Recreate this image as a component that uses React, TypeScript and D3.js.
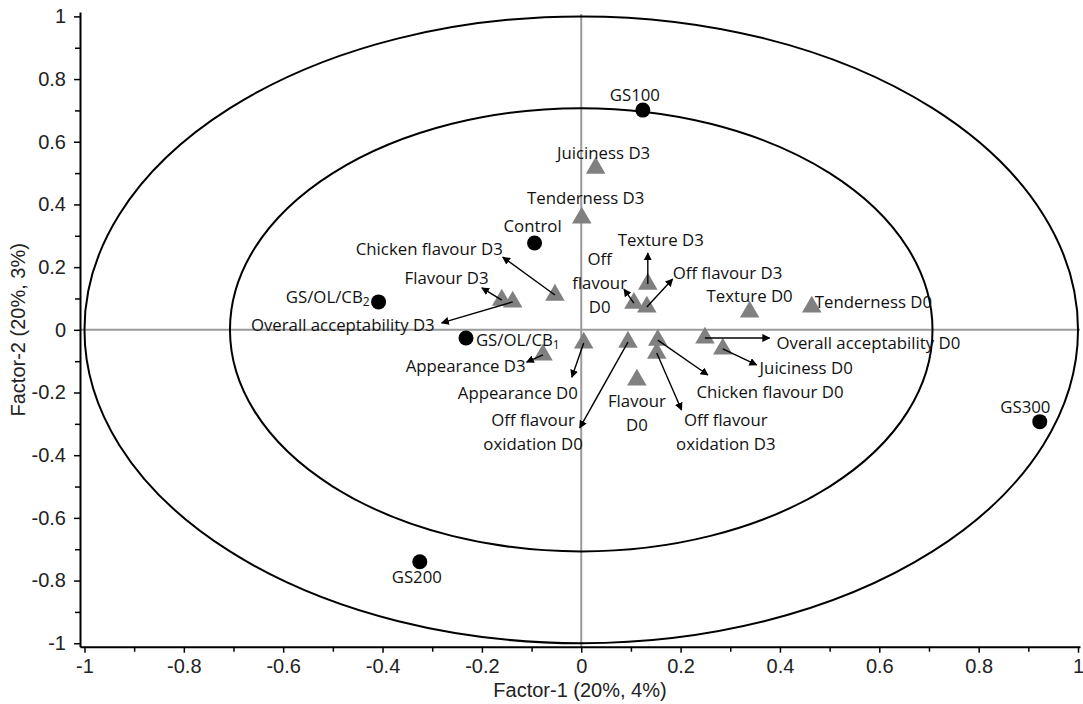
import React, { useRef, useEffect } from "react";
import * as d3 from "d3";

// observations (black dots)
const sampleNames = ["GS100", "Control", "GS/OL/CB2", "GS/OL/CB1", "GS300", "GS200"];
const sampleF1 = [0.124, -0.094, -0.408, -0.232, 0.923, -0.325];
const sampleF2 = [0.701, 0.277, 0.089, -0.026, -0.293, -0.74];

// sensory attributes (grey triangles)
const attrNames = [
  "Juiciness D3", "Tenderness D3", "Chicken flavour D3", "Flavour D3",
  "Overall acceptability D3", "Texture D3", "Off flavour D0", "Off flavour D3",
  "Texture D0", "Tenderness D0", "Overall acceptability D0", "Juiciness D0",
  "Chicken flavour D0", "Off flavour oxidation D3", "Flavour D0",
  "Off flavour oxidation D0", "Appearance D0", "Appearance D3",
];
const attrF1 = [0.029, 0.001, -0.053, -0.16, -0.138, 0.134, 0.106, 0.132, 0.339, 0.464, 0.249, 0.285, 0.154, 0.152, 0.112, 0.094, 0.005, -0.077];
const attrF2 = [0.516, 0.357, 0.111, 0.095, 0.089, 0.146, 0.085, 0.073, 0.057, 0.073, -0.026, -0.061, -0.033, -0.074, -0.16, -0.039, -0.042, -0.08];

const majorTicks = [-1, -0.8, -0.6, -0.4, -0.2, 0, 0.2, 0.4, 0.6, 0.8, 1];
const minorTicks = [-0.9, -0.7, -0.5, -0.3, -0.1, 0.1, 0.3, 0.5, 0.7, 0.9];
const circleRadii = [1, Math.sqrt(0.5)];

// label placement (data units): text lines, anchor, optional arrow tip
type Lab = { lines: string[]; lx: number; ly: number; anchor: string; ax?: number; ay?: number };
const labelLayout: Record<string, Lab> = {
  "GS100": { lines: ["GS100"], lx: 0.108, ly: 0.752, anchor: "middle" },
  "Control": { lines: ["Control"], lx: -0.098, ly: 0.334, anchor: "middle" },
  "GS/OL/CB2": { lines: ["GS/OL/CB|2"], lx: -0.426, ly: 0.108, anchor: "end" },
  "GS/OL/CB1": { lines: ["GS/OL/CB|1"], lx: -0.212, ly: -0.029, anchor: "start" },
  "GS300": { lines: ["GS300"], lx: 0.894, ly: -0.243, anchor: "middle" },
  "GS200": { lines: ["GS200"], lx: -0.331, ly: -0.785, anchor: "middle" },
  "Juiciness D3": { lines: ["Juiciness D3"], lx: 0.045, ly: 0.567, anchor: "middle" },
  "Tenderness D3": { lines: ["Tenderness D3"], lx: 0.009, ly: 0.424, anchor: "middle" },
  "Chicken flavour D3": { lines: ["Chicken flavour D3"], lx: -0.158, ly: 0.261, anchor: "end", ax: -0.158, ay: 0.232 },
  "Flavour D3": { lines: ["Flavour D3"], lx: -0.271, ly: 0.168, anchor: "middle", ax: -0.2, ay: 0.134 },
  "Overall acceptability D3": { lines: ["Overall acceptability D3"], lx: -0.295, ly: 0.018, anchor: "end", ax: -0.281, ay: 0.022 },
  "Texture D3": { lines: ["Texture D3"], lx: 0.16, ly: 0.289, anchor: "middle", ax: 0.134, ay: 0.245 },
  "Off flavour D0": { lines: ["Off", "flavour", "D0"], lx: 0.037, ly: 0.229, anchor: "middle", ax: 0.086, ay: 0.13 },
  "Off flavour D3": { lines: ["Off flavour D3"], lx: 0.184, ly: 0.186, anchor: "start", ax: 0.184, ay: 0.162 },
  "Texture D0": { lines: ["Texture D0"], lx: 0.339, ly: 0.111, anchor: "middle" },
  "Tenderness D0": { lines: ["Tenderness D0"], lx: 0.47, ly: 0.091, anchor: "start" },
  "Overall acceptability D0": { lines: ["Overall acceptability D0"], lx: 0.393, ly: -0.039, anchor: "start", ax: 0.379, ay: -0.026 },
  "Juiciness D0": { lines: ["Juiciness D0"], lx: 0.359, ly: -0.119, anchor: "start", ax: 0.353, ay: -0.112 },
  "Chicken flavour D0": { lines: ["Chicken flavour D0"], lx: 0.232, ly: -0.195, anchor: "start", ax: 0.255, ay: -0.144 },
  "Off flavour oxidation D3": { lines: ["Off flavour", "oxidation D3"], lx: 0.291, ly: -0.285, anchor: "middle", ax: 0.202, ay: -0.256 },
  "Flavour D0": { lines: ["Flavour", "D0"], lx: 0.112, ly: -0.224, anchor: "middle" },
  "Off flavour oxidation D0": { lines: ["Off flavour", "oxidation D0"], lx: -0.097, ly: -0.285, anchor: "middle", ax: -0.003, ay: -0.313 },
  "Appearance D0": { lines: ["Appearance D0"], lx: -0.007, ly: -0.199, anchor: "end", ax: -0.019, ay: -0.151 },
  "Appearance D3": { lines: ["Appearance D3"], lx: -0.112, ly: -0.112, anchor: "end", ax: -0.11, ay: -0.103 },
};

const W = 1083, H = 704;
const x = d3.scaleLinear().domain([-1.009, 1.004]).range([80, 1080]);
const y = d3.scaleLinear().domain([-1.011, 1.014]).range([646.7, 12]);
const fmt = (d: any) => String(+(+d).toFixed(1));
const axisFont = "'Liberation Sans Narrow', 'Arial Narrow', 'Liberation Sans', Arial, sans-serif";
const labelFont = "'Open Sans', 'Noto Sans', sans-serif";

function Label({ lab }: { lab: Lab }) {
  const px = x(lab.lx), py = y(lab.ly);
  return (
    <text x={px} y={py} textAnchor={lab.anchor} dominantBaseline="central"
      fontFamily={labelFont} fontSize={16.8} fill="#111">
      {lab.lines.map((l, i) => {
        const parts = l.split("|");
        return (
          <tspan key={i} x={px} dy={i === 0 ? 0 : 24}>
            {parts[0]}
            {parts[1] && <tspan fontSize={12} dy={5}>{parts[1]}</tspan>}
          </tspan>
        );
      })}
    </text>
  );
}

export default function App() {
  const xAxisRef = useRef<SVGGElement>(null);
  const yAxisRef = useRef<SVGGElement>(null);

  useEffect(() => {
    document.body.style.margin = "0";
    const gx = d3.select(xAxisRef.current!);
    gx.selectAll("*").remove();
    gx.append("g").call(d3.axisBottom(x).tickValues(majorTicks).tickSize(6).tickSizeOuter(0).tickPadding(6).tickFormat(fmt));
    gx.append("g").call(d3.axisBottom(x).tickValues(minorTicks).tickSize(5).tickFormat(() => "")).select(".domain").remove();

    const gy = d3.select(yAxisRef.current!);
    gy.selectAll("*").remove();
    gy.append("g").call(d3.axisLeft(y).tickValues(majorTicks).tickSize(6).tickSizeOuter(0).tickPadding(8).tickFormat(fmt));
    gy.append("g").call(d3.axisLeft(y).tickValues(minorTicks).tickSize(5).tickFormat(() => "")).select(".domain").remove();

    [gx, gy].forEach((g) => {
      g.selectAll("g").attr("font-family", axisFont).attr("font-size", 20);
      g.selectAll(".domain").attr("stroke", "#000").attr("stroke-width", 2);
      g.selectAll(".tick line").attr("stroke", "#000").attr("stroke-width", 1.5);
      g.selectAll(".tick text").attr("fill", "#222");
    });
  }, []);

  const tri = d3.symbol(d3.symbolTriangle, 165)()!;

  return (
    <svg width={W} height={H} style={{ display: "block", background: "#fff" }}>
      <defs>
        <marker id="arr" viewBox="0 0 10 10" refX="9" refY="5" markerWidth="8" markerHeight="8"
          markerUnits="userSpaceOnUse" orient="auto">
          <path d="M0,0L10,5L0,10z" fill="#000" />
        </marker>
      </defs>

      {/* zero lines */}
      <line x1={80} x2={1080} y1={y(0)} y2={y(0)} stroke="#9a9a9a" strokeWidth={2} />
      <line x1={x(0)} x2={x(0)} y1={14} y2={646.7} stroke="#9a9a9a" strokeWidth={2} />

      {/* correlation ellipses */}
      {circleRadii.map((r) => (
        <ellipse key={r} cx={x(0)} cy={y(0)} rx={x(r) - x(0)} ry={y(0) - y(r)}
          fill="none" stroke="#000" strokeWidth={2} />
      ))}

      <g ref={xAxisRef} transform={`translate(0,${646.7})`} />
      <g ref={yAxisRef} transform={`translate(80,0)`} />

      {/* attribute triangles */}
      {attrNames.map((n, i) => (
        <path key={n} d={tri} transform={`translate(${x(attrF1[i])},${y(attrF2[i])})`} fill="#808080" />
      ))}

      {/* sample dots */}
      {sampleNames.map((n, i) => (
        <circle key={n} cx={x(sampleF1[i])} cy={y(sampleF2[i])} r={7.5} fill="#000" />
      ))}

      {/* arrows */}
      {attrNames.map((n, i) => {
        const lab = labelLayout[n];
        if (lab.ax === undefined) return null;
        return (
          <line key={n} x1={x(attrF1[i])} y1={y(attrF2[i])} x2={x(lab.ax)} y2={y(lab.ay!)}
            stroke="#000" strokeWidth={1.4} markerEnd="url(#arr)" />
        );
      })}

      {/* labels */}
      {[...sampleNames, ...attrNames].map((n) => <Label key={n} lab={labelLayout[n]} />)}

      {/* axis titles */}
      <text x={580} y={690} textAnchor="middle" dominantBaseline="central" fontFamily={axisFont} fontSize={20} fill="#222">
        Factor-1 (20%, 4%)
      </text>
      <text transform={`translate(18,${y(0)}) rotate(-90)`} textAnchor="middle" dominantBaseline="central"
        fontFamily={axisFont} fontSize={20} fill="#222">
        Factor-2 (20%, 3%)
      </text>
    </svg>
  );
}
